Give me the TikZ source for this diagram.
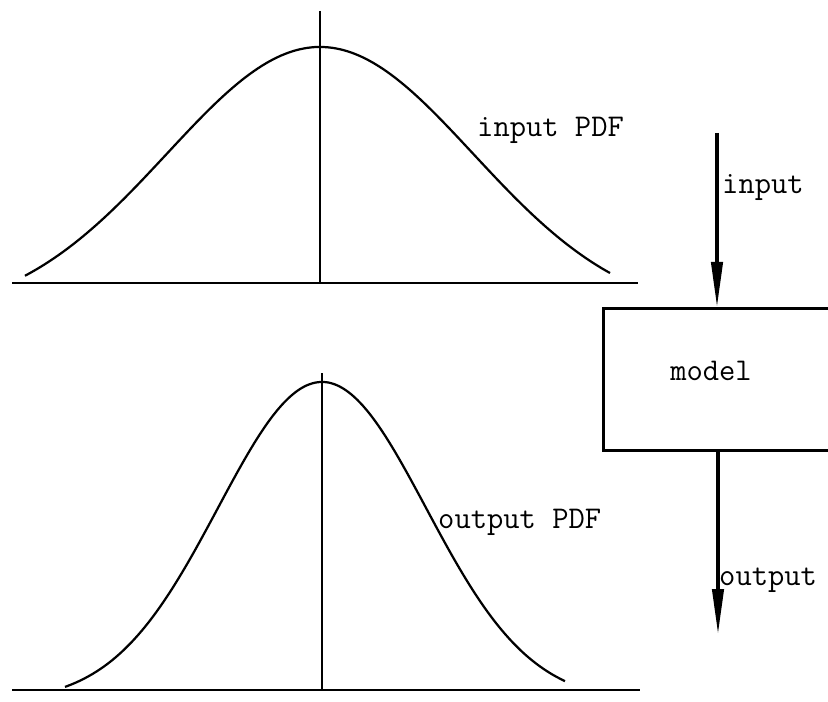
\documentclass[tikz,border=0pt]{standalone}
\usepackage{fontspec}
\usetikzlibrary{arrows.meta,positioning}
\tikzset{
  figure/.style={x=0.03cm,y=-0.03cm,font=\ttfamily\fontsize{27}{31}\selectfont},
  axis/.style={line width=2.3pt},
  pdfcurve/.style={line width=1.9pt,smooth},
  modelbox/.style={draw,line width=2.5pt,anchor=north west,inner sep=0pt,
    minimum width=7.9cm,minimum height=4.26cm},
  flow/.style={-{Triangle[length=1.35cm,width=0.34cm]},line width=2.8pt},
  tag/.style={inner sep=0pt,anchor=base west},
}

\begin{document}
\begin{tikzpicture}[figure]
  \useasboundingbox (0,0) rectangle (828,702);

  % input PDF
  \draw[axis] (12,283) -- (638,283);
  \draw[axis] (320,11) -- (320,283);
  \draw[pdfcurve] plot[domain=25:610,samples=90]
    (\x,{318-271*exp(-0.5*((\x-320)/153)^2)});
  \node[tag] (inpdf) at (477,137) {input PDF};

  % output PDF
  \draw[axis] (12,690) -- (640,690);
  \draw[axis] (322,373) -- (322,690);
  \draw[pdfcurve] plot[domain=65:565,samples=90]
    (\x,{702-320*exp(-0.5*((\x-322)/104)^2)});
  \node[tag] (outpdf) at (438,528) {output PDF};

  % model block
  \node[modelbox] (box) at (602,307) {};
  \node[anchor=base,inner sep=0pt] (modeltxt) at (711,380) {model};

  \coordinate (inStart) at (717,133);
  \coordinate (outEnd) at (718,634);
  \draw[flow] (inStart) -- (inStart |- box.north);
  \draw[flow] (box.south -| outEnd) -- (outEnd);
  \node[tag] (intxt) at (722,193) {input};
  \node[tag] (outtxt) at (719,585) {output};
\end{tikzpicture}
\end{document}
